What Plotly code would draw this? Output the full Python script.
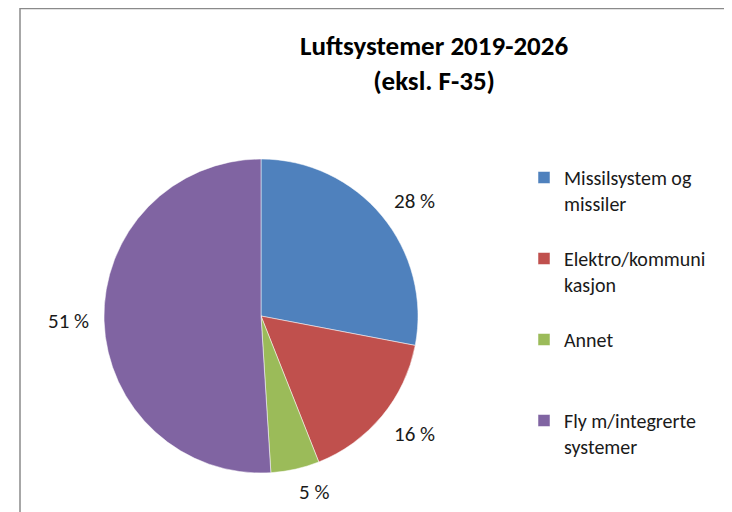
import math
import plotly.graph_objects as go

categories = ["Missilsystem og<br>missiler", "Elektro/kommuni<br>kasjon", "Annet", "Fly m/integrerte<br>systemer"]
values = [28, 16, 5, 51]
value_labels = ["28 %", "16 %", "5 %", "51 %"]
colors = ["#4F81BD", "#C0504D", "#9BBB59", "#8064A2"]

W, H = 732, 512
OFF = 8  # page body margin in the browser
FONT = "Carlito, Calibri, 'Liberation Sans Narrow', 'Open Sans', sans-serif"

# pie geometry (pixels, in figure coordinates)
CX, CY, R = 261 - OFF, 316 - OFF, 157
LABEL_GAP = 14
INK_UP, INK_DOWN = 6, 9

legend_names = [c + "<br> " + ("<br> " if "<br>" not in c else "") for c in categories]

fig = go.Figure(go.Pie(
    labels=legend_names,
    values=values,
    textinfo="none",
    sort=False,
    direction="clockwise",
    rotation=0,
    marker=dict(colors=colors, line=dict(color="white", width=0.5)),
    domain=dict(x=[(CX - R) / W, (CX + R) / W], y=[(H - CY - R) / H, (H - CY + R) / H]),
    showlegend=True,
    hoverinfo="label+percent",
))

# data labels: nearest corner of each label sits just outside the slice, on its mid-angle
annotations = []
total = sum(values)
cum = 0
for v, lab in zip(values, value_labels):
    mid = (cum + v / 2) / total * 2 * math.pi
    cum += v
    s, c = math.sin(mid), math.cos(mid)
    rr = R + LABEL_GAP
    px = CX + rr * s
    py = CY - rr * c
    xanchor = "left" if s > 0.1 else ("right" if s < -0.1 else "center")
    if c > 0.1:
        py -= INK_UP
    elif c < -0.1:
        py += INK_DOWN
    annotations.append(dict(
        text=lab, x=px / W, y=1 - py / H, xref="paper", yref="paper",
        xanchor=xanchor, yanchor="middle", showarrow=False, borderpad=0,
        font=dict(size=21, family=FONT, color="#1a1a1a"),
    ))

annotations.append(dict(
    text="<b>Luftsystemer 2019-2026<br>(eksl. F-35)</b>",
    x=(434 - OFF) / W, y=1 - (27 - OFF) / H, xref="paper", yref="paper",
    xanchor="center", yanchor="top", showarrow=False,
    font=dict(size=27, family=FONT, color="#000000"),
))

fig.update_layout(
    width=W, height=H,
    margin=dict(l=0, r=0, t=0, b=0),
    paper_bgcolor="white",
    plot_bgcolor="white",
    font=dict(family=FONT, color="#1a1a1a"),
    legend=dict(
        x=(524 - OFF) / W, xanchor="left",
        y=1 - (158 - OFF) / H, yanchor="top",
        valign="top",
        font=dict(size=20, family=FONT, color="#1a1a1a"),
        traceorder="normal",
    ),
    annotations=annotations,
    shapes=[
        dict(type="line", xref="paper", yref="paper", x0=(20 - OFF) / W, y0=0.999, x1=1, y1=0.999,
             line=dict(color="#8a8a8a", width=1.5)),
        dict(type="line", xref="paper", yref="paper", x0=(20 - OFF) / W, y0=1, x1=(20 - OFF) / W, y1=0,
             line=dict(color="#8a8a8a", width=1.5)),
    ],
)

fig.write_html("out.html")
